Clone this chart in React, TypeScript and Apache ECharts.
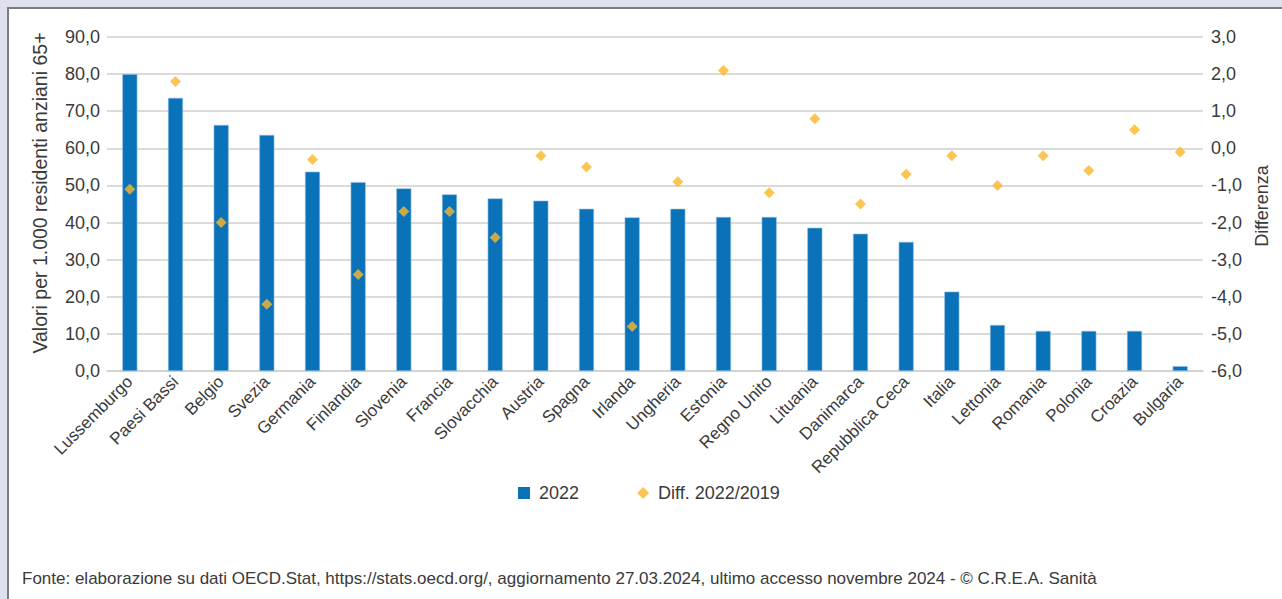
import React, { useEffect, useRef } from "react";
import * as echarts from "echarts";

const categories = [
  "Lussemburgo", "Paesi Bassi", "Belgio", "Svezia", "Germania", "Finlandia",
  "Slovenia", "Francia", "Slovacchia", "Austria", "Spagna", "Irlanda",
  "Ungheria", "Estonia", "Regno Unito", "Lituania", "Danimarca",
  "Repubblica Ceca", "Italia", "Lettonia", "Romania", "Polonia", "Croazia", "Bulgaria",
];

const values2022 = [
  80.0, 73.6, 66.3, 63.6, 53.7, 50.9, 49.2, 47.6, 46.5, 45.9, 43.7, 41.4,
  43.7, 41.5, 41.5, 38.6, 37.0, 34.8, 21.4, 12.4, 10.8, 10.8, 10.8, 1.3,
];

const diff2022_2019 = [
  -1.1, 1.8, -2.0, -4.2, -0.3, -3.4, -1.7, -1.7, -2.4, -0.2, -0.5, -4.8,
  -0.9, 2.1, -1.2, 0.8, -1.5, -0.7, -0.2, -1.0, -0.2, -0.6, 0.5, -0.1,
];

const leftAxisName = "Valori per 1.000 residenti anziani 65+";
const rightAxisName = "Differenza";
const seriesNames = ["2022", "Diff. 2022/2019"];
const sourceNote =
  "Fonte: elaborazione su dati OECD.Stat, https://stats.oecd.org/, aggiornamento 27.03.2024, ultimo accesso novembre 2024 - © C.R.E.A. Sanità";

const FONT = "'Liberation Sans', Arial, sans-serif";
const TEXT = "#3a3a3a";
const fmt = (v: number) => v.toFixed(1).replace(".", ",");

export default function App() {
  const ref = useRef<HTMLDivElement>(null);

  useEffect(() => {
    if (!ref.current) return;
    const chart = echarts.init(ref.current, undefined, { renderer: "svg" });
    chart.setOption({
      animation: false,
      textStyle: { fontFamily: FONT },
      grid: { left: 107, right: 79, top: 37, bottom: 228, containLabel: false },
      legend: {
        left: 513,
        top: 479,
        itemGap: 58,
        itemWidth: 12,
        itemHeight: 12,
        itemStyle: { borderWidth: 0 },
        textStyle: { fontSize: 18, color: TEXT, fontFamily: FONT, padding: [0, 0, 0, 4] },
        data: [
          { name: seriesNames[0], icon: "rect" },
          { name: seriesNames[1], icon: "diamond" },
        ],
      },
      xAxis: {
        type: "category",
        data: categories,
        axisLine: { show: true, lineStyle: { color: "#cfcfcf", width: 1.5 } },
        axisTick: { show: false },
        axisLabel: {
          rotate: 45,
          interval: 0,
          margin: 8,
          fontSize: 17,
          color: TEXT,
          fontFamily: FONT,
        },
      },
      yAxis: [
        {
          type: "value",
          min: 0,
          max: 90,
          interval: 10,
          axisLine: { show: false },
          axisTick: { show: false },
          splitLine: { lineStyle: { color: "#cfcfcf", width: 1.5 } },
          axisLabel: { formatter: fmt, fontSize: 18, color: TEXT, margin: 7, fontFamily: FONT },
        },
        {
          type: "value",
          min: -6,
          max: 3,
          interval: 1,
          axisLine: { show: false },
          axisTick: { show: false },
          splitLine: { show: false },
          axisLabel: { formatter: fmt, fontSize: 18, color: TEXT, margin: 8, fontFamily: FONT },
        },
      ],
      series: [
        {
          name: seriesNames[0],
          type: "bar",
          data: values2022,
          barWidth: 15,
          itemStyle: { color: "#0a72b9", borderColor: "#8fbde3", borderWidth: 0.6 },
        },
        {
          name: seriesNames[1],
          type: "scatter",
          yAxisIndex: 1,
          data: diff2022_2019,
          symbol: "diamond",
          symbolSize: 11,
          itemStyle: { color: "#fbb728" },
        },
      ],
      graphic: [
        {
          type: "text",
          x: 40,
          y: 193,
          rotation: Math.PI / 2,
          style: {
            text: leftAxisName,
            fontSize: 19.5,
            fontFamily: FONT,
            fill: TEXT,
            textAlign: "center",
            textVerticalAlign: "middle",
          },
        },
        {
          type: "text",
          x: 1262,
          y: 206,
          rotation: Math.PI / 2,
          style: {
            text: rightAxisName,
            fontSize: 18,
            fontFamily: FONT,
            fill: TEXT,
            textAlign: "center",
            textVerticalAlign: "middle",
          },
        },
        {
          type: "text",
          x: 22,
          y: 578,
          style: {
            text: sourceNote,
            fontSize: 17,
            fontFamily: FONT,
            fill: TEXT,
            textAlign: "left",
            textVerticalAlign: "middle",
          },
        },
      ],
    });
    return () => chart.dispose();
  }, []);

  return (
    <div
      style={{
        position: "fixed",
        left: 0,
        top: 0,
        width: 1282,
        height: 599,
        background: "#dfe1ee",
        overflow: "hidden",
      }}
    >
      <div
        style={{
          position: "absolute",
          left: 7,
          top: 7,
          width: 1300,
          height: 620,
          background: "#ffffff",
          border: "2px solid #7d7d7d",
        }}
      />
      <div
        ref={ref}
        style={{ position: "absolute", left: 0, top: 0, width: 1282, height: 599 }}
      />
    </div>
  );
}
